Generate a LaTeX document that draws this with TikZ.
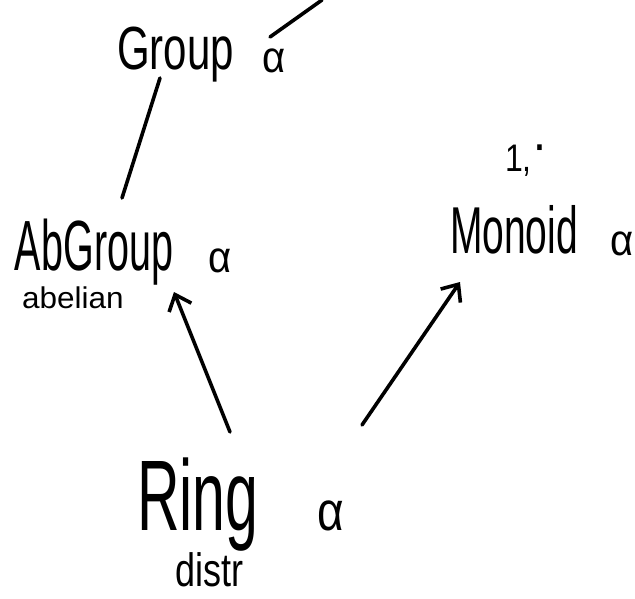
\documentclass[tikz,border=0pt]{standalone}
\usepackage{fontspec}
\setmainfont{Liberation Sans}
\usetikzlibrary{arrows.meta}
\tikzset{
  hw/.style={anchor=base west, inner sep=0pt, outer sep=0pt, text=black},
  pen/.style={line width=3.6pt, line cap=round, line join=round, black},
  arr/.style={pen, -{Straight Barb[length=14pt,width=24pt,line width=3.6pt]}}
}
\newcommand{\hwtext}[4]{\scalebox{#2}[#3]{\fontsize{#1}{#1}\selectfont #4}}
\begin{document}
\begin{tikzpicture}[x=1pt,y=-1pt]
\useasboundingbox (0,0) rectangle (635,599);
% labels
\node[hw] (group) at (117,70) {\hwtext{42}{1}{1.45}{Group}};
\node[hw] (groupa) at (262,73) {\hwtext{40}{1}{1.1}{α}};
\node[hw] (abgroup) at (15,270) {\hwtext{39.5}{1}{1.8}{AbGroup}};
\node[hw] (abgroupa) at (208,272) {\hwtext{40}{1}{1.1}{α}};
\node[hw] (abelian) at (22,308) {\hwtext{30}{1.05}{1}{abelian}};
\node[hw] (ops) at (505,172) {\hwtext{32}{1}{1.2}{1,\kern4pt\raisebox{0.3em}{\textbf{·}}}};
\node[hw] (monoid) at (450,253) {\hwtext{39}{1}{1.7}{Monoid}};
\node[hw] (monoida) at (610,255) {\hwtext{40}{1}{1.1}{α}};
\node[hw] (ring) at (137,530) {\hwtext{59}{1}{1.7}{Ring}};
\node[hw] (ringa) at (317,530) {\hwtext{46}{1}{1.2}{α}};
\node[hw] (distr) at (175,586) {\hwtext{36}{1}{1.3}{distr}};
% connector end points
\coordinate (topend) at (322,0);
\coordinate (groupne) at (270,37);
\coordinate (groupsw) at (160,78);
\coordinate (abgroupn) at (122,198);
\coordinate (ringnw) at (230,432);
\coordinate (abgroupse) at (174,292);
\coordinate (ringne) at (362,425);
\coordinate (monoidsw) at (460,282);
% connectors
\draw[pen] (groupne) -- (topend);
\draw[pen] (groupsw) -- (abgroupn);
\draw[arr] (ringnw) -- (abgroupse);
\draw[arr] (ringne) -- (monoidsw);
\end{tikzpicture}
\end{document}
